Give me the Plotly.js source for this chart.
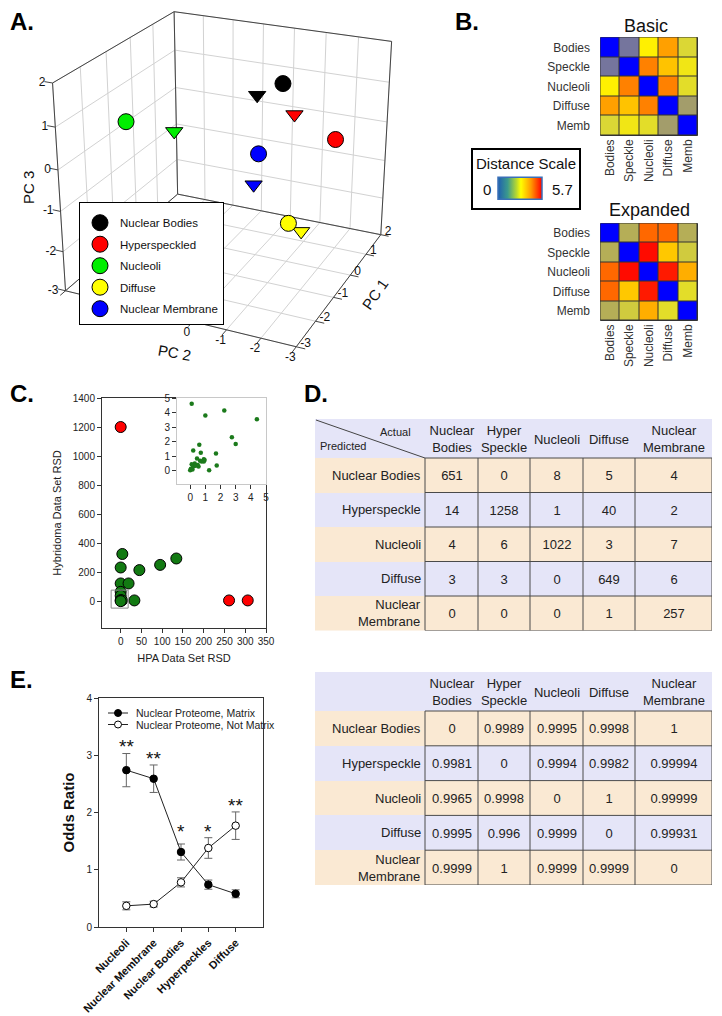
<!DOCTYPE html>
<html>
<head>
<meta charset="utf-8">
<script src="https://cdn.plot.ly/plotly-3.0.1.min.js"></script>
<style>html,body{margin:0;padding:0;background:#fff;}#chart{width:722px;height:1016px;}</style>
</head>
<body>
<div id="chart"></div>
<script>
// ---------- Panel A: PCA (3D) ----------
const pcaCategories = ['Nuclear Bodies','Hyperspeckled','Nucleoli','Diffuse','Nuclear Membrane'];
const pcaColors = ['#000000','#ff0000','#00ee00','#ffff00','#0000ff'];
// circles (basic set)
const basicPC1 = [0.22, 1.15, -2.2, 0.68, 0.0];
const basicPC2 = [-0.67, -1.83, 2.48, -0.67, -0.08];
const basicPC3 = [1.35, -0.25, 1.0, -2.4, -0.36];
// triangles (expanded set)
const expPC1 = [-0.1, 0.89, -1.58, 0.8, -0.24];
const expPC2 = [-0.08, -0.67, 1.48, -1.02, -0.08];
const expPC3 = [1.12, 0.33, 0.65, -2.62, -1.03];
const pc1Ticks = [-3, -2, -1, 0, 1, 2];
const pc2Ticks = [-3, -2, -1, 0, 1, 2, 3, 4];
const pc3Ticks = [-3, -2, -1, 0, 1, 2];

// ---------- Panel B: distance heatmaps ----------
const compartments = ['Bodies','Speckle','Nucleoli','Diffuse','Memb'];
const basicDist = [
  [0, 1.0, 2.96, 4.1, 2.55],
  [1.0, 0, 4.55, 3.6, 2.8],
  [2.96, 4.55, 0, 4.55, 2.65],
  [4.1, 3.6, 4.55, 0, 1.6],
  [2.55, 2.8, 2.65, 1.6, 0]
];
const expandedDist = [
  [0, 1.85, 4.8, 4.8, 1.85],
  [1.85, 0, 5.6, 3.53, 2.35],
  [4.8, 5.6, 0, 5.45, 3.9],
  [4.8, 3.53, 5.45, 0, 2.65],
  [1.85, 2.35, 3.9, 2.65, 0]
];
const distanceRange = [0, 5.7];

// ---------- Panel C: RSD scatter ----------
const hpaGreen = [4, 0, 45, 95, 134, 0, 19, 0, 0, 0, 3, 33, 0];
const hybGreen = [325, 232, 214, 250, 294, 122, 122, 64, 37, 7, 5, 5, 0];
const hpaRed = [0, 261, 306];
const hybRed = [1200, 5, 5];
const insetX = [0.1, 1.0, 2.25, 4.4, 2.75, 3.0, 0.2, 0.6, 0.7, 1.7, 1.75, 1.25, 0.45, 0.9, 0.95, 0.65, 0.75, 0.9, 0.5, 0.3, 0.1, 0.2, 0.05, 0.0, 0.15, 0.35, 0.55];
const insetY = [4.6, 3.8, 4.15, 3.55, 2.3, 1.85, 1.4, 1.8, 1.25, 1.2, 0.37, 0.05, 0.85, 0.8, 0.75, 0.7, 0.65, 0.65, 0.4, 0.5, 0.45, 0.3, 0.15, 0.05, 0.1, 0.35, 0.3];
const zoomBoxX = [-23, 18];
const zoomBoxY = [-48, 76];

// ---------- Panel D: tables ----------
const tableCols = ['Nuclear<br>Bodies','Hyper<br>Speckle','Nucleoli','Diffuse','Nuclear<br>Membrane'];
const tableRows = ['Nuclear Bodies','Hyperspeckle','Nucleoli','Diffuse','Nuclear<br>Membrane'];
const confusion = [
  ['651','0','8','5','4'],
  ['14','1258','1','40','2'],
  ['4','6','1022','3','7'],
  ['3','3','0','649','6'],
  ['0','0','0','1','257']
];
const probTable = [
  ['0','0.9989','0.9995','0.9998','1'],
  ['0.9981','0','0.9994','0.9982','0.99994'],
  ['0.9965','0.9998','0','1','0.99999'],
  ['0.9995','0.996','0.9999','0','0.99931'],
  ['0.9999','1','0.9999','0.9999','0']
];

// ---------- Panel E: odds ratios ----------
const oddsCats = ['Nucleoli','Nuclear Membrane','Nuclear Bodies','Hyperpeckles','Diffuse'];
const matrixOR = [2.74, 2.59, 1.31, 0.74, 0.58];
const matrixErr = [0.29, 0.24, 0.14, 0.08, 0.07];
const notMatrixOR = [0.37, 0.40, 0.78, 1.38, 1.77];
const notMatrixErr = [0.07, 0.05, 0.08, 0.18, 0.24];
const starText = ['**','**','*','*','**'];
const starY = [3.15, 2.95, 1.66, 1.66, 2.13];
const seriesNames = ['Nuclear Proteome, Matrix', 'Nuclear Proteome, Not Matrix'];

// =====================================================================
const FONT = 'Liberation Sans, Arial, sans-serif';
const W = 722, H = 1016;
const px = v => v / W;
const py = v => 1 - v / H;
const traces = [];
const shapes = [];
const ann = [];

// ---- 3D projection for panel A (perspective camera) ----
const cam = {alpha: 204.6, elev: 24, dist: 10, scale: 123, cx: 230, cy: 165, zAspect: 0.89};
const rng = {x: [pc1Ticks[0], pc1Ticks[pc1Ticks.length-1]], y: [pc2Ticks[0], pc2Ticks[pc2Ticks.length-1]], z: [pc3Ticks[0], pc3Ticks[pc3Ticks.length-1]]};
const nrm = (v, r) => (v - (r[0] + r[1]) / 2) / ((r[1] - r[0]) / 2);
function project(x, y, z) {
  const a = cam.alpha * Math.PI / 180, e = cam.elev * Math.PI / 180;
  const X = nrm(x, rng.x), Y = nrm(y, rng.y), Z = nrm(z, rng.z) * cam.zAspect;
  const r = [-Math.sin(a), Math.cos(a), 0];
  const d = [Math.cos(e) * Math.cos(a), Math.cos(e) * Math.sin(a), Math.sin(e)];
  const u = [-Math.sin(e) * Math.cos(a), -Math.sin(e) * Math.sin(a), Math.cos(e)];
  const pr = X * r[0] + Y * r[1];
  const pu = X * u[0] + Y * u[1] + Z * u[2];
  const pd = X * d[0] + Y * d[1] + Z * d[2];
  const f = cam.dist / (cam.dist - pd);
  return [cam.cx + cam.scale * pr * f, cam.cy - cam.scale * pu * f];
}
function segTrace(segs, color, width) {
  const xs = [], ys = [];
  segs.forEach(([p, q]) => {
    const a = project(...p), b = project(...q);
    xs.push(a[0], b[0], null); ys.push(a[1], b[1], null);
  });
  return {type: 'scatter', mode: 'lines', x: xs, y: ys, xaxis: 'x7', yaxis: 'y7', showlegend: false,
    hoverinfo: 'skip', line: {color: color, width: width}};
}
const [x0, x1] = rng.x, [y0, y1] = rng.y, [z0, z1] = rng.z;
const grid = [];
pc1Ticks.forEach(t => { grid.push([[t, y0, z0], [t, y1, z0]]); grid.push([[t, y1, z0], [t, y1, z1]]); });
pc2Ticks.forEach(t => { grid.push([[x0, t, z0], [x1, t, z0]]); grid.push([[x1, t, z0], [x1, t, z1]]); });
pc3Ticks.forEach(t => { grid.push([[x0, y1, t], [x1, y1, t]]); grid.push([[x1, y0, t], [x1, y1, t]]); });
traces.push(segTrace(grid, '#d2d2d2', 1));
const edges = [
  [[x0, y0, z0], [x1, y0, z0]], [[x0, y0, z0], [x0, y1, z0]],
  [[x0, y1, z0], [x1, y1, z0]], [[x1, y0, z0], [x1, y1, z0]],
  [[x0, y1, z0], [x0, y1, z1]], [[x1, y1, z0], [x1, y1, z1]], [[x1, y0, z0], [x1, y0, z1]],
  [[x0, y1, z1], [x1, y1, z1]], [[x1, y0, z1], [x1, y1, z1]]
];
traces.push(segTrace(edges, '#444', 1));
const tks = [];
pc3Ticks.forEach(t => tks.push([[x0, y1, t], [x0, y1 + 0.25, t]]));
pc1Ticks.forEach(t => tks.push([[t, y0, z0], [t, y0 - 0.25, z0]]));
pc2Ticks.forEach(t => tks.push([[x0, t, z0], [x0 - 0.2, t, z0]]));
traces.push(segTrace(tks, '#444', 1));
function labelTrace(pts, texts, pos, dx, dy) {
  const P = pts.map(p => project(...p));
  return {type: 'scatter', mode: 'text', x: P.map(p => p[0] + dx), y: P.map(p => p[1] + dy), text: texts, textposition: pos,
    xaxis: 'x7', yaxis: 'y7', showlegend: false, hoverinfo: 'skip', cliponaxis: false,
    textfont: {family: FONT, size: 12, color: '#111'}};
}
traces.push(labelTrace(pc3Ticks.map(t => [x0, y1, t]), pc3Ticks.map(String), 'middle left', -7, 0));
traces.push(labelTrace(pc1Ticks.map(t => [t, y0, z0]), pc1Ticks.map(String), 'middle right', 4, -3));
const pc2Shown = pc2Ticks.filter(t => t <= 0);
traces.push(labelTrace(pc2Shown.map(t => [x0, t, z0]), pc2Shown.map(String), 'middle center', -6, 11));
const triP = expPC1.map((v, i) => project(v, expPC2[i], expPC3[i]));
traces.push({type: 'scatter', mode: 'markers', x: triP.map(p => p[0]), y: triP.map(p => p[1]), xaxis: 'x7', yaxis: 'y7',
  showlegend: false, hoverinfo: 'skip', cliponaxis: false,
  marker: {symbol: 'triangle-down', size: 15, color: pcaColors, line: {color: '#000', width: 1}}});
pcaCategories.forEach((c, i) => {
  const p = project(basicPC1[i], basicPC2[i], basicPC3[i]);
  traces.push({type: 'scatter', mode: 'markers', x: [p[0]], y: [p[1]], xaxis: 'x7', yaxis: 'y7', name: c,
    legend: 'legend', legendgroup: 'g' + i, hoverinfo: 'skip', cliponaxis: false,
    marker: {symbol: 'circle', size: 16, color: pcaColors[i], line: {color: '#000', width: 1}}});
});

// ---- Panel B ----
const cellScale = [[0,'#0000ff'],[0.18,'#78789a'],[0.32,'#b4ac58'],[0.45,'#dcd834'],[0.52,'#fff000'],[0.62,'#ffc800'],[0.72,'#ffa000'],[0.82,'#ff7800'],[0.92,'#ff3000'],[1,'#ff0000']];
[[basicDist,'x2','y2'],[expandedDist,'x3','y3']].forEach(([z, xa, ya]) => {
  traces.push({type: 'heatmap', z: z, x: compartments, y: compartments, xaxis: xa, yaxis: ya,
    colorscale: cellScale, zmin: distanceRange[0], zmax: distanceRange[1], showscale: false,
    xgap: 1, ygap: 1, hoverinfo: 'skip'});
  shapes.push({type: 'rect', xref: xa, yref: ya, x0: -0.5, x1: 4.5, y0: -0.5, y1: 4.5, layer: 'below',
    fillcolor: '#333', line: {color: '#333', width: 1}});
});
traces.push({type: 'scatter', mode: 'markers', x: [null], y: [null], xaxis: 'x2', yaxis: 'y2', showlegend: false, hoverinfo: 'skip',
  marker: {color: distanceRange, cmin: distanceRange[0], cmax: distanceRange[1],
    colorscale: [[0,'#1f5fb0'],[0.22,'#3b9a8c'],[0.42,'#b8d830'],[0.52,'#ffff00'],[0.75,'#ff9a00'],[1,'#ff0000']],
    showscale: true,
    colorbar: {orientation: 'h', x: px(520), xanchor: 'center', y: py(189), yanchor: 'middle',
      len: 44, lenmode: 'pixels', thickness: 22, thicknessmode: 'pixels', xpad: 0, ypad: 0,
      showticklabels: false, ticks: '', outlinecolor: '#3a70b8', outlinewidth: 1.5}}});

// ---- Panel C ----
traces.push({type: 'scatter', mode: 'markers', x: hpaGreen, y: hybGreen, xaxis: 'x4', yaxis: 'y4', showlegend: false,
  marker: {size: 11, color: '#127a12', line: {color: '#000', width: 1}}, hoverinfo: 'skip'});
traces.push({type: 'scatter', mode: 'markers', x: hpaRed, y: hybRed, xaxis: 'x4', yaxis: 'y4', showlegend: false,
  marker: {size: 11, color: '#ff0000', line: {color: '#000', width: 1}}, hoverinfo: 'skip'});
traces.push({type: 'scatter', mode: 'markers', x: insetX, y: insetY, xaxis: 'x5', yaxis: 'y5', showlegend: false,
  marker: {size: 4.5, color: '#1b7a1b'}, hoverinfo: 'skip'});
shapes.push({type: 'rect', xref: 'x4', yref: 'y4', x0: zoomBoxX[0], x1: zoomBoxX[1], y0: zoomBoxY[0], y1: zoomBoxY[1],
  line: {color: '#888', width: 1}});

// ---- Panel D tables (heatmap grid) ----
const tan = '#fae9d3', lav = '#e5e5f8';
const colW = [110, 53, 52, 53, 52, 77];
const cum = ws => { const e = [0]; ws.forEach(w => e.push(e[e.length - 1] + w)); return e; };
function drawTable(data, rowH, xa, ya) {
  const xE = cum(colW);
  const yE = cum([39, rowH, rowH, rowH, rowH, rowH]);
  const z = [colW.map(() => 0)];
  const text = [[''].concat(tableCols)];
  data.forEach((r, i) => { z.push(colW.map(() => (i % 2 === 0 ? 1 : 0))); text.push([''].concat(r)); });
  traces.push({type: 'heatmap', x: xE, y: yE, z: z, text: text, texttemplate: '%{text}', xaxis: xa, yaxis: ya,
    textfont: {family: FONT, size: 13, color: '#222'}, colorscale: [[0, lav], [0.5, lav], [0.5, tan], [1, tan]],
    zmin: 0, zmax: 1, showscale: false, hoverinfo: 'skip'});
  for (let j = 1; j < xE.length; j++)
    shapes.push({type: 'line', xref: xa, yref: ya, x0: xE[j], x1: xE[j], y0: yE[1], y1: yE[yE.length - 1], line: {color: '#4a4a4a', width: 1}});
  for (let i = 1; i < yE.length; i++)
    shapes.push({type: 'line', xref: xa, yref: ya, x0: xE[1], x1: xE[xE.length - 1], y0: yE[i], y1: yE[i], line: {color: '#4a4a4a', width: 1}});
  tableRows.forEach((t, i) => ann.push({text: t, x: xE[1] - 2, y: (yE[i + 1] + yE[i + 2]) / 2, xref: xa, yref: ya,
    xanchor: 'right', yanchor: 'middle', align: 'right', showarrow: false, font: {family: FONT, size: 13, color: '#222'}}));
  return yE[yE.length - 1];
}
const t1H = drawTable(confusion, 34.5, 'x8', 'y8');
const t2H = drawTable(probTable, 34.8, 'x9', 'y9');
shapes.push({type: 'line', xref: 'x8', yref: 'y8', x0: 1, y0: 1, x1: colW[0], y1: 39, line: {color: '#444', width: 1}});
ann.push({text: 'Actual', x: 98, y: 13, xref: 'x8', yref: 'y8', xanchor: 'right', yanchor: 'middle', showarrow: false,
  font: {family: FONT, size: 11, color: '#222'}});
ann.push({text: 'Predicted', x: 3, y: 27, xref: 'x8', yref: 'y8', xanchor: 'left', yanchor: 'middle', showarrow: false,
  font: {family: FONT, size: 11, color: '#222'}});

// ---- Panel E ----
traces.push({type: 'scatter', mode: 'lines+markers', x: oddsCats, y: matrixOR, xaxis: 'x6', yaxis: 'y6', showlegend: false,
  line: {color: '#222', width: 1}, marker: {size: 7.5, color: '#000', line: {color: '#000', width: 1}},
  error_y: {type: 'data', array: matrixErr, visible: true, color: '#666', thickness: 1, width: 4}, hoverinfo: 'skip'});
traces.push({type: 'scatter', mode: 'lines+markers', x: oddsCats, y: notMatrixOR, xaxis: 'x6', yaxis: 'y6', showlegend: false,
  line: {color: '#222', width: 1}, marker: {size: 7.5, color: '#fff', line: {color: '#000', width: 1}},
  error_y: {type: 'data', array: notMatrixErr, visible: true, color: '#666', thickness: 1, width: 4}, hoverinfo: 'skip'});
oddsCats.forEach((c, i) => ann.push({text: starText[i], x: c, y: starY[i], xref: 'x6', yref: 'y6', showarrow: false,
  xanchor: 'center', yanchor: 'middle', font: {family: FONT, size: 19, color: '#111'}}));
const keyY = [713, 724.5];
const keyFill = ['#000', '#fff'];
keyY.forEach((yy, i) => {
  traces.push({type: 'scatter', mode: 'lines', x: [108, 128], y: [yy, yy], xaxis: 'x10', yaxis: 'y10', showlegend: false,
    hoverinfo: 'skip', line: {color: '#222', width: 1}});
  traces.push({type: 'scatter', mode: 'markers', x: [118], y: [yy], xaxis: 'x10', yaxis: 'y10', showlegend: false,
    hoverinfo: 'skip', marker: {size: 7, color: keyFill[i], line: {color: '#000', width: 1}}});
  ann.push({text: seriesNames[i], x: 134, y: yy, xref: 'x10', yref: 'y10', xanchor: 'left', yanchor: 'middle',
    showarrow: false, font: {family: FONT, size: 10.5, color: '#222'}});
});

// ---- Paper annotations ----
const panelLabel = (t, x, y) => ann.push({text: '<b>' + t + '</b>', x: px(x), y: py(y), xref: 'paper', yref: 'paper',
  xanchor: 'left', yanchor: 'top', showarrow: false, font: {family: FONT, size: 24, color: '#000'}});
panelLabel('A.', 8, 6);
panelLabel('B.', 453, 6);
panelLabel('C.', 8, 378);
panelLabel('D.', 302, 378);
panelLabel('E.', 8, 664);
const txt = (t, x, y, size, extra) => ann.push(Object.assign({text: t, x: px(x), y: py(y), xref: 'paper', yref: 'paper',
  xanchor: 'center', yanchor: 'middle', showarrow: false, font: {family: FONT, size: size, color: '#111'}}, extra || {}));
txt('Basic', 646, 26, 18);
txt('Expanded', 649, 210, 18);
txt('Distance Scale', 526, 164, 15);
txt('0', 487, 189, 15);
txt('5.7', 562, 189, 15);
txt('PC 3', 28, 187, 15, {textangle: -90});
txt('PC 1', 375, 295, 15, {textangle: -55});
txt('PC 2', 174, 352, 15, {textangle: 10});
shapes.push({type: 'rect', xref: 'paper', yref: 'paper', x0: px(472), x1: px(580), y0: py(209), y1: py(149),
  line: {color: '#000', width: 2}, fillcolor: 'rgba(0,0,0,0)'});

const tickAxis = {ticks: 'outside', ticklen: 4, tickcolor: '#333', showline: true, linecolor: '#333', mirror: true,
  showgrid: false, zeroline: false, tickfont: {family: FONT, size: 10, color: '#222'}, fixedrange: true};
const hidden = {visible: false, fixedrange: true, showgrid: false, zeroline: false};

const layout = {
  width: W, height: H, autosize: false, margin: {l: 0, r: 0, t: 0, b: 0},
  paper_bgcolor: '#fff', plot_bgcolor: 'rgba(0,0,0,0)', font: {family: FONT},
  legend: {x: px(79), y: py(202), xanchor: 'left', yanchor: 'top', bordercolor: '#000', borderwidth: 1,
    bgcolor: '#fff', font: {family: FONT, size: 11.5, color: '#111'}, traceorder: 'grouped', tracegroupgap: 2.5,
    itemsizing: 'trace', title: {text: ' ', font: {size: 4}}},
  xaxis7: Object.assign({}, hidden, {domain: [0, px(400)], anchor: 'y7', range: [0, 400]}),
  yaxis7: Object.assign({}, hidden, {domain: [py(372), 1], anchor: 'x7', range: [372, 0]}),
  xaxis2: {domain: [px(600), px(698)], anchor: 'y2', tickangle: -90, ticks: '', showgrid: false, zeroline: false,
    tickfont: {family: FONT, size: 12, color: '#333'}, fixedrange: true},
  yaxis2: {domain: [py(136), py(37)], anchor: 'x2', autorange: 'reversed', ticks: '', showgrid: false, zeroline: false,
    tickfont: {family: FONT, size: 12, color: '#333'}, ticklabelstandoff: 9},
  xaxis3: {domain: [px(600), px(698)], anchor: 'y3', tickangle: -90, ticks: '', showgrid: false, zeroline: false,
    tickfont: {family: FONT, size: 12, color: '#333'}},
  yaxis3: {domain: [py(321), py(223)], anchor: 'x3', autorange: 'reversed', ticks: '', showgrid: false, zeroline: false,
    tickfont: {family: FONT, size: 12, color: '#333'}, ticklabelstandoff: 9},
  xaxis4: Object.assign({}, tickAxis, {domain: [px(102), px(266)], anchor: 'y4', range: [-45, 350], dtick: 50,
    title: {text: 'HPA Data Set RSD', font: {family: FONT, size: 11, color: '#222'}, standoff: 8}}),
  yaxis4: Object.assign({}, tickAxis, {domain: [py(628), py(398)], anchor: 'x4', range: [-185, 1400], dtick: 200,
    title: {text: 'Hybridoma Data Set RSD', font: {family: FONT, size: 11, color: '#222'}, standoff: 8}}),
  xaxis5: Object.assign({}, tickAxis, {domain: [px(177), px(266)], anchor: 'y5', range: [-0.87, 5], dtick: 1, linecolor: '#c8c8c8'}),
  yaxis5: Object.assign({}, tickAxis, {domain: [py(484), py(398)], anchor: 'x5', range: [-0.9, 5], dtick: 1, linecolor: '#c8c8c8'}),
  xaxis6: Object.assign({}, tickAxis, {domain: [px(99), px(263)], anchor: 'y6', range: [-1, 5], type: 'category',
    tickangle: -45, tickfont: {family: FONT, size: 11, color: '#111', weight: 'bold'}}),
  yaxis6: Object.assign({}, tickAxis, {domain: [py(927), py(698)], anchor: 'x6', range: [0, 4], dtick: 1,
    title: {text: 'Odds Ratio', font: {family: FONT, size: 15, color: '#111', weight: 'bold'}, standoff: 8}}),
  xaxis8: Object.assign({}, hidden, {domain: [px(315), px(712)], anchor: 'y8', range: [0, 397]}),
  yaxis8: Object.assign({}, hidden, {domain: [py(419 + t1H), py(419)], anchor: 'x8', range: [t1H, 0]}),
  xaxis9: Object.assign({}, hidden, {domain: [px(315), px(712)], anchor: 'y9', range: [0, 397]}),
  yaxis9: Object.assign({}, hidden, {domain: [py(672 + t2H), py(672)], anchor: 'x9', range: [t2H, 0]}),
  xaxis10: Object.assign({}, hidden, {domain: [px(100), px(140)], anchor: 'y10', range: [100, 140]}),
  yaxis10: Object.assign({}, hidden, {domain: [py(735), py(705)], anchor: 'x10', range: [735, 705]}),
  shapes: shapes,
  annotations: ann
};

Plotly.newPlot('chart', traces, layout, {displayModeBar: false, staticPlot: true});
</script>
</body>
</html>
